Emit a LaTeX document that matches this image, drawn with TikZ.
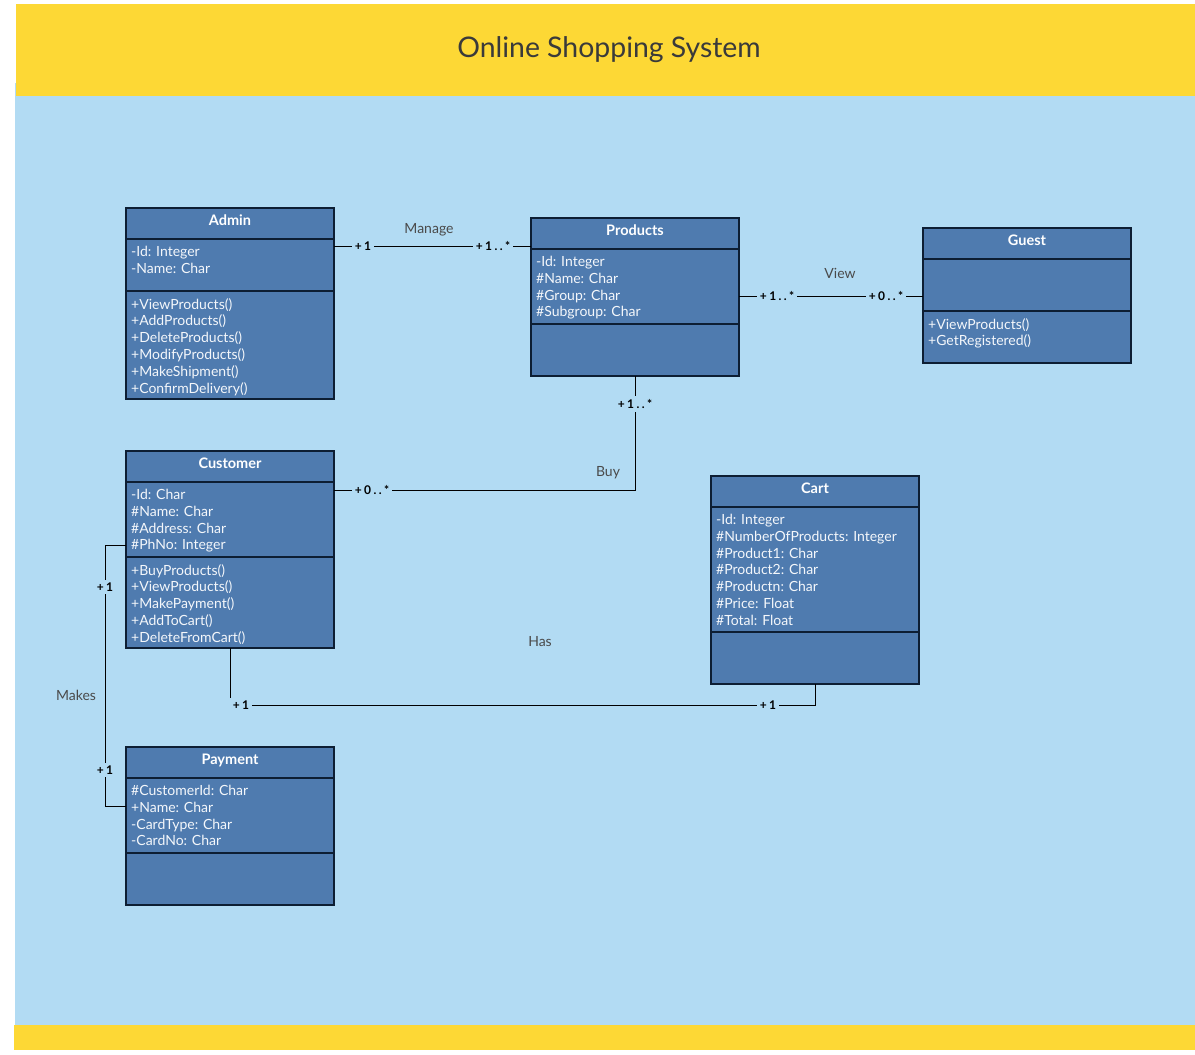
\documentclass[tikz,border=0pt]{standalone}
\usepackage{fontspec}
\setmainfont{Lato}
\newfontfamily\multfont{Lato}[LetterSpace=20]
\usetikzlibrary{calc}
\definecolor{bgblue}{HTML}{B2DBF3}
\definecolor{hdryellow}{HTML}{FDD835}
\definecolor{boxfill}{HTML}{4F7BAF}
\definecolor{boxline}{HTML}{0D1E33}
\definecolor{titlec}{HTML}{3A3A3A}
\definecolor{labelc}{HTML}{4A4A4A}
\definecolor{entryc}{HTML}{F4F7FB}
\tikzset{
  comp/.style={draw=boxline, fill=boxfill, line width=1.6pt, minimum width=208pt, anchor=north west, inner sep=0pt, outer sep=0pt},
  classname/.style={font=\bfseries\fontsize{14.5}{17}\selectfont, text=white, anchor=base, inner sep=0pt},
  entries/.style={font=\fontsize{14}{16.8}\selectfont, text=entryc, align=left, anchor=north west, inner sep=0pt},
  conn/.style={draw=black, line width=1pt},
  mult/.style={font=\multfont\bfseries\fontsize{12}{14}\selectfont, text=black, fill=bgblue, inner sep=3pt},
  assoc/.style={font=\fontsize{14}{16}\selectfont, text=labelc, inner sep=0pt}
}
\newcommand{\umlclass}[8]{%
  \node[comp, minimum height=31pt] (#1H) at (#2,-#3) {};
  \node[comp, minimum height=#4pt] (#1A) at (#1H.south west) {};
  \node[comp, minimum height=#5pt] (#1M) at (#1A.south west) {};
  \node[classname] (#1T) at ([yshift=-17pt]#1H.north) {#6};
  \node[entries] (#1AT) at ([xshift=5pt,yshift=-7pt]#1A.north west) {#7};
  \node[entries] (#1MT) at ([xshift=5pt,yshift=-7pt]#1M.north west) {#8};
}
\begin{document}
\begin{tikzpicture}[x=1pt,y=1pt]
\useasboundingbox (0,0) rectangle (1195,-1055);
\fill[bgblue] (15,-83) rectangle (1195,-1026);
\fill[hdryellow] (16,-4) rectangle (1195,-96);
\fill[hdryellow] (14,-1025) rectangle (1195,-1050);
\node[font=\fontsize{28.4}{34}\selectfont, text=titlec] (title) at (609,-50) {Online Shopping System};

\umlclass{admin}{126}{208}{52}{108}{Admin}
  {-Id: Integer\\-Name: Char}
  {+ViewProducts()\\+AddProducts()\\+DeleteProducts()\\+ModifyProducts()\\+MakeShipment()\\+ConfirmDelivery()}
\umlclass{prod}{531}{218}{75}{52}{Products}
  {-Id: Integer\\\#Name: Char\\\#Group: Char\\\#Subgroup: Char}
  {}
\umlclass{guest}{923}{228}{52}{52}{Guest}
  {}
  {+ViewProducts()\\+GetRegistered()}
\umlclass{cust}{126}{451}{75}{91}{Customer}
  {-Id: Char\\\#Name: Char\\\#Address: Char\\\#PhNo: Integer}
  {+BuyProducts()\\+ViewProducts()\\+MakePayment()\\+AddToCart()\\+DeleteFromCart()}
\umlclass{cart}{711}{476}{125}{52}{Cart}
  {-Id: Integer\\\#NumberOfProducts: Integer\\\#Product1: Char\\\#Product2: Char\\\#Productn: Char\\\#Price: Float\\\#Total: Float}
  {}
\umlclass{pay}{126}{747}{75}{52}{Payment}
  {\#CustomerId: Char\\+Name: Char\\-CardType: Char\\-CardNo: Char}
  {}

% Manage
\draw[conn] ([yshift=-7pt]adminA.north east) -- ([yshift=-7pt]adminA.north east -| prodA.west)
  node[mult, pos=0.147] (m1) {+1}
  node[mult, pos=0.807] (m2) {+1..*};
\node[assoc] (lmanage) at (429,-229.5) {Manage};

% View
\draw[conn] ([yshift=-9.5pt]prodA.east) -- ([yshift=-9.5pt]prodA.east -| guestA.west)
  node[mult, pos=0.207] (v1) {+1..*}
  node[mult, pos=0.799] (v2) {+0..*};
\node[assoc] (lview) at (840,-273) {View};

% Buy
\coordinate (buyc) at ([yshift=-8pt]custA.north east -| prodM.south);
\draw[conn] ([yshift=-8pt]custA.north east) -- (buyc) -- (prodM.south);
\node[mult] (b1) at (372,-490) {+0..*};
\node[mult] (b2) at (635,-404) {+1..*};
\node[assoc] (lbuy) at (608,-472.5) {Buy};

% Has
\coordinate (hasc1) at ($(custM.south)+(0,-57)$);
\coordinate (hasc2) at (hasc1 -| cartM.south);
\draw[conn] (custM.south) -- (hasc1) -- (hasc2) -- (cartM.south);
\node[mult] (h1) at (241,-705) {+1};
\node[mult] (h2) at (768,-705) {+1};
\node[assoc] (lhas) at (540,-642) {Has};

% Makes
\coordinate (custout) at ([yshift=12pt]custA.south west);
\coordinate (payin) at ([yshift=-28pt]payA.north west);
\coordinate (mkc1) at ($(custout)+(-21,0)$);
\coordinate (mkc2) at (mkc1 |- payin);
\draw[conn] (custout) -- (mkc1) -- (mkc2) -- (payin);
\node[mult] (k1) at (105,-587) {+1};
\node[mult] (k2) at (105,-770) {+1};
\node[assoc] (lmakes) at (76,-695) {Makes};
\end{tikzpicture}
\end{document}
